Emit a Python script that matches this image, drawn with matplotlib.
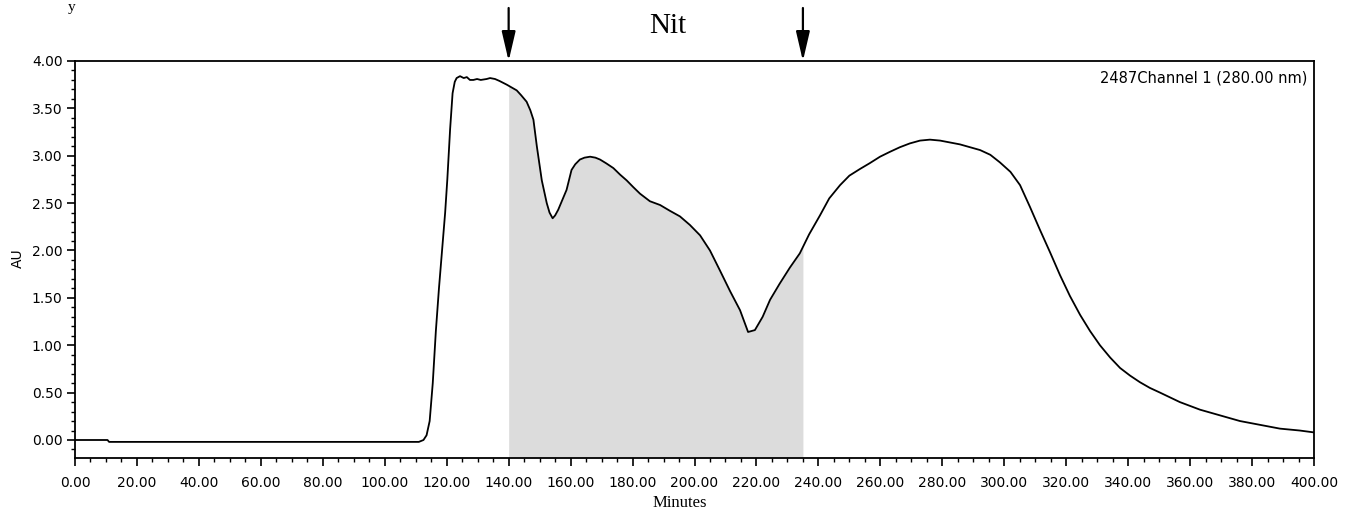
import numpy as np
import matplotlib
matplotlib.use("Agg")
import matplotlib.pyplot as plt
from matplotlib.ticker import MultipleLocator, FormatStrFormatter

# ---- data ----
time_min = [0, 10.5, 11, 50, 100, 111, 112.5, 113.5, 114.5, 115.5, 116.5, 117.5, 118.5,
            119.5, 120.2, 121.1, 121.9, 122.6, 123.2, 124.3, 125.5, 126.5, 127.5, 128.6,
            129.8, 131, 132.9, 134, 135.6, 137, 139.4, 141, 142.6, 144, 145.8, 147, 148,
            149.1, 150.7, 152.3, 153.2, 154.2, 155, 156, 157.3, 158.7, 160.3, 161.5, 163,
            164.5, 166.3, 168, 169.5, 171.5, 173.8, 176, 178.1, 180.2, 182.4, 184, 185.6,
            188.9, 192, 195.3, 198.5, 201.8, 205, 208.2, 211.5, 214.7, 217.3, 219.5, 222,
            224.4, 227.5, 230.8, 234, 237, 240.5, 243.5, 247, 250, 253.4, 256.5, 259.9,
            263, 266.3, 269.5, 272.8, 276, 279.3, 282.5, 285.7, 289, 292.2, 295.5, 298.6,
            302, 305.1, 308.3, 311.5, 314.8, 318, 321.2, 324.5, 327.7, 330.9, 334.2, 337.4,
            340.6, 343.8, 347, 350.3, 353.5, 356.7, 360, 363.2, 366.4, 369.6, 372.9, 376.1,
            379.3, 382.6, 385.8, 389, 392.2, 395.4, 400]
absorbance = [0.0, 0.0, -0.02, -0.02, -0.02, -0.02, 0.0, 0.05, 0.2, 0.6, 1.15, 1.6, 2.0,
              2.4, 2.75, 3.28, 3.66, 3.78, 3.82, 3.84, 3.82, 3.83, 3.80, 3.80,
              3.81, 3.80, 3.81, 3.82, 3.81, 3.79, 3.75, 3.72, 3.69, 3.64, 3.57, 3.48, 3.38,
              3.10, 2.74, 2.50, 2.40, 2.34, 2.37, 2.43, 2.53, 2.64, 2.85, 2.91, 2.96,
              2.98, 2.99, 2.98, 2.96, 2.92, 2.87, 2.80, 2.74, 2.67, 2.60, 2.56, 2.52,
              2.48, 2.42, 2.36, 2.27, 2.16, 2.00, 1.79, 1.57, 1.37, 1.14, 1.16, 1.30,
              1.48, 1.65, 1.82, 1.97, 2.17, 2.37, 2.55, 2.69, 2.79, 2.86, 2.92, 2.99,
              3.04, 3.09, 3.13, 3.16, 3.17, 3.16, 3.14, 3.12, 3.09, 3.06, 3.01, 2.93,
              2.83, 2.69, 2.46, 2.22, 1.98, 1.74, 1.52, 1.32, 1.15, 1.00, 0.87, 0.76,
              0.68, 0.61, 0.55, 0.50, 0.45, 0.40, 0.36, 0.32, 0.29, 0.26, 0.23, 0.20,
              0.18, 0.16, 0.14, 0.12, 0.11, 0.10, 0.08]
fraction_bounds = [140, 235]
fraction_label = "Nit"
channel_label = "2487Channel 1 (280.00 nm)"
x_label = "Minutes"
y_label = "AU"

t = np.array(time_min, dtype=float)
a = np.array(absorbance, dtype=float)

W, H = 1350, 514
fig = plt.figure(figsize=(W / 100, H / 100), dpi=100)
ax = fig.add_axes([75 / W, 1 - 458 / H, (1314 - 75) / W, (458 - 61) / H])

ymin, ymax = -0.19, 4.0
ax.set_xlim(0, 400)
ax.set_ylim(ymin, ymax)

# shaded fraction
mask = (t > fraction_bounds[0]) & (t < fraction_bounds[1])
ft = np.concatenate([[fraction_bounds[0]], t[mask], [fraction_bounds[1]]])
fa = np.interp(ft, t, a)
ax.fill_between(ft, ymin, fa, color="#dcdcdc", linewidth=0, zorder=1)

ax.plot(t, a, color="black", linewidth=1.3, zorder=3)

# ticks
ax.xaxis.set_major_locator(MultipleLocator(20))
ax.xaxis.set_minor_locator(MultipleLocator(5))
ax.yaxis.set_major_locator(MultipleLocator(0.5))
ax.yaxis.set_minor_locator(MultipleLocator(0.1))
ax.xaxis.set_major_formatter(FormatStrFormatter("%.2f"))
ax.yaxis.set_major_formatter(FormatStrFormatter("%.2f"))
ax.tick_params(which="major", direction="out", length=6, width=1.2, labelsize=10,
               colors="black", pad=3)
ax.tick_params(axis="x", which="major", pad=7)
ax.tick_params(which="minor", direction="out", length=3, width=1.0)
for s in ax.spines.values():
    s.set_linewidth(1.3)
    s.set_color("black")

ax.text(0.9944, 0.977, channel_label, transform=ax.transAxes, ha="right", va="top",
        fontsize=10.5, family="DejaVu Sans")

fig.text(18 / W, 1 - 258 / H, y_label, rotation=90, ha="center", va="center",
         fontsize=10, family="DejaVu Sans")
fig.text(680 / W, 1 - 503 / H, x_label, ha="center", va="center", fontsize=12,
         family="Liberation Serif")
fig.text(668 / W, 1 - 26 / H, fraction_label, ha="center", va="center", fontsize=21,
         family="Liberation Serif")
fig.text(72 / W, 1 - 1 / H, "y", ha="center", va="top", fontsize=11,
         family="Liberation Serif")

# arrows marking the fraction
for xb in fraction_bounds:
    ax.annotate("", xy=(xb, 1.0), xycoords=("data", "axes fraction"),
                xytext=(xb, 1 - 8 / H), textcoords=("data", "figure fraction"),
                arrowprops=dict(arrowstyle="-|>,head_length=1.2,head_width=0.28",
                                mutation_scale=15, color="black", lw=1.6,
                                shrinkA=0, shrinkB=0),
                annotation_clip=False)

fig.savefig("out.png", dpi=100)
